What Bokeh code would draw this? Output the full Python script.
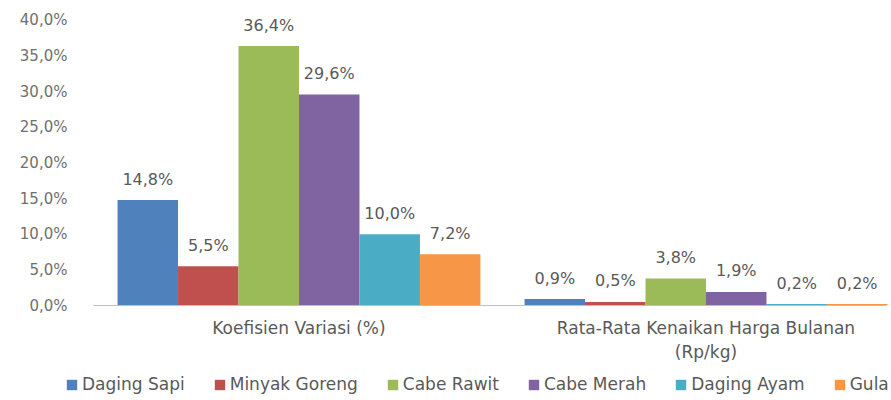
from bokeh.plotting import figure
from bokeh.models import ColumnDataSource, FixedTicker, Legend, LegendItem
from bokeh.core.properties import value
from bokeh.embed import file_html
from bokeh.resources import INLINE

categories = ["Koefisien Variasi (%)", "Rata-Rata Kenaikan Harga Bulanan\n(Rp/kg)"]
series = ["Daging Sapi", "Minyak Goreng", "Cabe Rawit", "Cabe Merah", "Daging Ayam", "Gula"]
colors = ["#4F81BD", "#C0504D", "#9BBB59", "#8064A2", "#4BACC6", "#F79646"]
values = {
    "Daging Sapi": [14.8, 0.9],
    "Minyak Goreng": [5.5, 0.5],
    "Cabe Rawit": [36.4, 3.8],
    "Cabe Merah": [29.6, 1.9],
    "Daging Ayam": [10.0, 0.2],
    "Gula": [7.2, 0.2],
}
y_ticks = [0, 5, 10, 15, 20, 25, 30, 35, 40]

FONT = "DejaVu Sans"
TXT = "#595959"

p = figure(frame_width=891, frame_height=395, output_backend="svg", toolbar_location=None,
           x_range=(-0.2334, 1.9558), y_range=(-13.33, 42.1),
           min_border_left=0, min_border_right=0, min_border_top=5, min_border_bottom=0)
p.outline_line_color = None
p.xgrid.visible = False
p.ygrid.visible = False

centers = [0.5 + i for i in range(len(categories))]
bw = 0.1486
items = []
for i, s in enumerate(series):
    xs = [c + (i - 2.5) * bw for c in centers]
    ys = values[s]
    src = ColumnDataSource(dict(x=xs, top=ys,
                                lab=[("%.1f%%" % v).replace(".", ",") for v in ys]))
    r = p.vbar(x="x", top="top", bottom=0, width=bw, source=src,
               fill_color=colors[i], line_color=None)
    p.text(x="x", y="top", text="lab", source=src, text_align="center",
           text_baseline="middle", y_offset=-21, text_font=value(FONT),
           text_font_size="16px", text_color=TXT)
    items.append(LegendItem(label=s, renderers=[r]))

p.yaxis.fixed_location = 0
p.yaxis.ticker = FixedTicker(ticks=y_ticks)
p.yaxis.major_label_overrides = {t: ("%.1f%%" % t).replace(".", ",") for t in y_ticks}
p.yaxis.axis_line_color = None
p.yaxis.major_tick_line_color = None
p.yaxis.minor_tick_line_color = None
p.yaxis.major_label_standoff = 22
p.yaxis.major_label_text_font = FONT
p.yaxis.major_label_text_font_size = "15px"
p.yaxis.major_label_text_color = "#707070"

p.xaxis.fixed_location = 0
p.xaxis.bounds = (-0.005, 1.94)
p.xaxis.ticker = FixedTicker(ticks=centers)
p.xaxis.major_label_overrides = {c: lab for c, lab in zip(centers, categories)}
p.xaxis.axis_line_color = "#BFBFBF"
p.xaxis.major_tick_line_color = None
p.xaxis.minor_tick_line_color = None
p.xaxis.major_label_standoff = 6
p.xaxis.major_label_text_font = FONT
p.xaxis.major_label_text_font_size = "17px"
p.xaxis.major_label_text_color = TXT

legend = Legend(items=items, orientation="horizontal", location=(65, 6),
                label_text_font=FONT, label_text_font_size="17px", label_text_color=TXT,
                glyph_width=13, glyph_height=13, spacing=28, label_standoff=4,
                label_height=18, border_line_color=None, background_fill_alpha=0,
                padding=0, margin=0)
p.add_layout(legend, "center")

open("out.html", "w").write(file_html(p, INLINE))
